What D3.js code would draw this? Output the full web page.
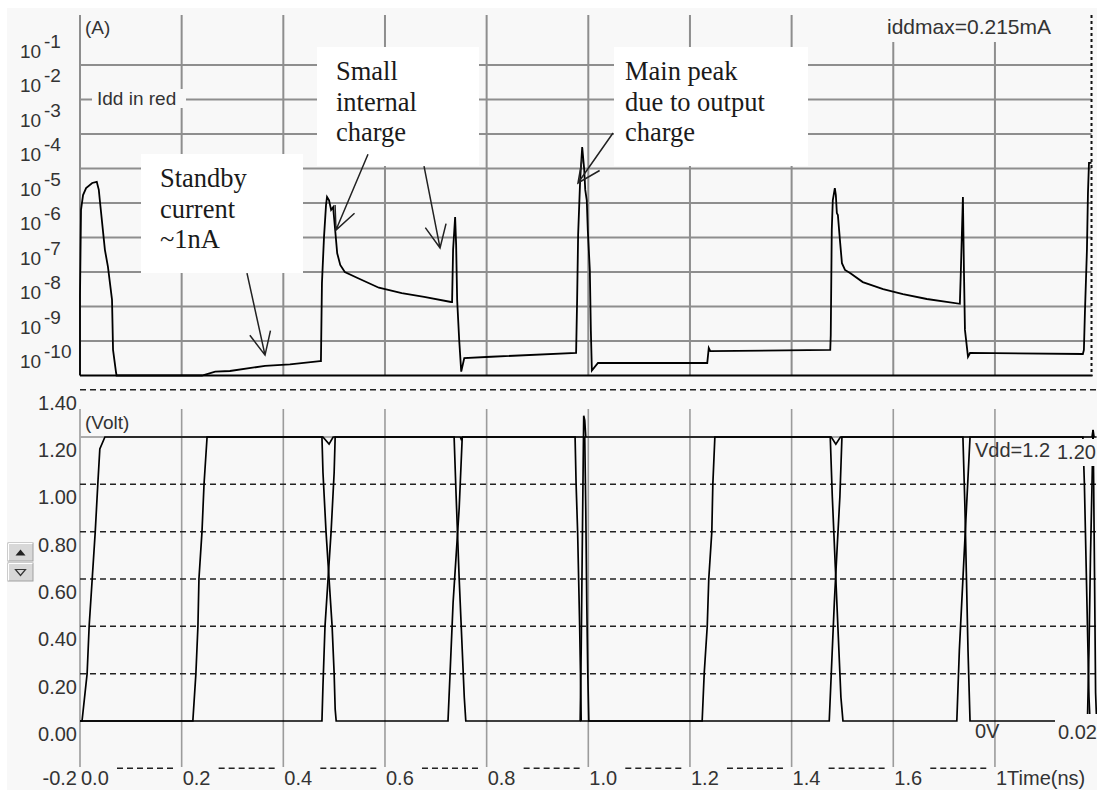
<!DOCTYPE html>
<html lang="en">
<head>
<meta charset="UTF-8">
<title>Idd and node voltages</title>
<script src="https://d3js.org/d3.v7.min.js"></script>
<style>
  body { margin: 0; background: #fff; }
  text { font-family: "Liberation Sans", Arial, sans-serif; fill: #333; }
  .note { font-family: "Liberation Serif", "Times New Roman", serif; fill: #1a1a1a; font-size: 26.5px; }
</style>
</head>
<body>
<script>
// ---- data ----
var timeTicks = [0, 0.2, 0.4, 0.6, 0.8, 1.0, 1.2, 1.4, 1.6, 1.8];
var timeLabels = ["0.0", "0.2", "0.4", "0.6", "0.8", "1.0", "1.2", "1.4", "1.6", "1Time(ns)"];

var iddExponents = [-1, -2, -3, -4, -5, -6, -7, -8, -9, -10];

var voltTicks = [1.4, 1.2, 1.0, 0.8, 0.6, 0.4, 0.2, 0.0, -0.2];
var voltLabels = ["1.40", "1.20", "1.00", "0.80", "0.60", "0.40", "0.20", "0.00", "-0.2"];

var cursorTime = 1.99;

// supply current, [time ns, current A]
var idd = [
  [0, 1e-11], [0, 2.1e-9], [0.002, 6.3e-7], [0.006, 1.7e-6], [0.012, 2.7e-6], [0.024, 3.8e-6],
  [0.033, 4.1e-6], [0.037, 2.4e-6], [0.039, 1.2e-6], [0.049, 4.4e-8], [0.055, 1.4e-8],
  [0.063, 1.55e-9], [0.065, 5.5e-11], [0.071, 1.2e-11], [0.072, 1e-11], [0.24, 1e-11],
  [0.266, 1.3e-11], [0.295, 1.35e-11], [0.364, 1.9e-11], [0.413, 2.1e-11], [0.472, 2.6e-11],
  [0.474, 2.6e-11], [0.476, 4.8e-9], [0.480, 1.0e-7], [0.484, 8.7e-7], [0.486, 1.5e-6],
  [0.490, 1.2e-6], [0.494, 6.3e-7], [0.498, 7.6e-7], [0.502, 1.65e-7], [0.506, 3.5e-8],
  [0.512, 1.6e-8], [0.521, 1.0e-8], [0.545, 6.8e-9], [0.588, 3.5e-9], [0.633, 2.45e-9],
  [0.677, 1.9e-9], [0.730, 1.35e-9], [0.732, 1.35e-9], [0.734, 4.4e-8], [0.738, 3.9e-7],
  [0.740, 6.0e-8], [0.742, 1.55e-9], [0.746, 1.07e-10], [0.750, 1.3e-11], [0.756, 3.2e-11],
  [0.809, 3.5e-11], [0.976, 4.5e-11], [0.978, 1.55e-9], [0.980, 1.2e-7], [0.984, 4.7e-6],
  [0.988, 4.2e-5], [0.992, 9.1e-6], [0.994, 2.4e-6], [0.997, 1.2e-6], [0.999, 1.65e-7],
  [1.003, 1.15e-8], [1.005, 2.1e-10], [1.007, 1.4e-11], [1.019, 2.3e-11], [1.234, 2.3e-11],
  [1.237, 6.3e-11], [1.240, 5.1e-11], [1.476, 5.5e-11], [1.477, 1.5e-10], [1.479, 1.65e-7],
  [1.481, 1.2e-6], [1.485, 2.7e-6], [1.487, 1.7e-6], [1.489, 5.1e-7], [1.491, 4.5e-7],
  [1.495, 8.5e-8], [1.499, 1.8e-8], [1.505, 1.15e-8], [1.515, 9.3e-9], [1.540, 5.1e-9],
  [1.580, 3.2e-9], [1.619, 2.3e-9], [1.666, 1.65e-9], [1.731, 1.2e-9], [1.733, 1.15e-8],
  [1.737, 1.5e-6], [1.739, 1.15e-8], [1.741, 2.1e-10], [1.747, 3.5e-11], [1.751, 4.5e-11],
  [1.973, 4.2e-11], [1.975, 5.5e-11], [1.977, 6.5e-10], [1.981, 4.4e-8], [1.983, 1.95e-6],
  [1.985, 1.45e-5], [1.990, 1.45e-5]
];

// node voltages, [time ns, volt]
var node1 = [
  [0, 0], [0.004, 0], [0.014, 0.2], [0.018, 0.4], [0.024, 0.6], [0.030, 0.8], [0.035, 1.0],
  [0.039, 1.15], [0.049, 1.2], [0.476, 1.2], [0.478, 1.05], [0.484, 0.8], [0.490, 0.6],
  [0.496, 0.4], [0.500, 0.2], [0.502, 0.05], [0.504, 0], [0.724, 0], [0.728, 0.2],
  [0.734, 0.5], [0.740, 0.7], [0.746, 0.9], [0.752, 1.2], [0.993, 1.2], [0.995, 0.9],
  [0.997, 0.5], [0.999, 0.2], [1.001, 0], [1.474, 0], [1.478, 0.2], [1.484, 0.5],
  [1.490, 0.75], [1.495, 0.95], [1.499, 1.2], [1.737, 1.2], [1.741, 0.9], [1.744, 0.6],
  [1.747, 0.3], [1.751, 0], [1.982, 0], [1.985, 0.3], [1.988, 0.7], [1.991, 1.0],
  [1.993, 1.23], [1.995, 1.2], [2.0, 1.2]
];
var node2 = [
  [0, 0], [0.222, 0], [0.228, 0.2], [0.232, 0.4], [0.234, 0.6], [0.240, 0.8], [0.244, 1.0],
  [0.250, 1.2], [0.478, 1.2], [0.490, 1.17], [0.498, 1.2], [0.748, 1.2], [0.750, 1.19],
  [0.752, 1.2], [0.974, 1.2], [0.976, 1.0], [0.979, 0.8], [0.981, 0.6], [0.983, 0.4],
  [0.985, 0.15], [0.986, 0], [1.224, 0], [1.228, 0.2], [1.234, 0.4], [1.237, 0.6],
  [1.243, 0.8], [1.245, 1.0], [1.249, 1.2], [1.478, 1.2], [1.487, 1.17], [1.496, 1.2],
  [1.973, 1.2], [1.976, 1.0], [1.979, 0.7], [1.982, 0.4], [1.985, 0.1], [1.987, 0], [2.0, 0]
];
var node3 = [
  [0, 0], [0.476, 0], [0.478, 0.15], [0.482, 0.4], [0.488, 0.6], [0.494, 0.8], [0.500, 1.05],
  [0.502, 1.2], [0.736, 1.2], [0.740, 0.95], [0.746, 0.6], [0.752, 0.3], [0.756, 0.1],
  [0.759, 0], [0.984, 0], [0.986, 0.3], [0.988, 0.7], [0.990, 1.1], [0.991, 1.29],
  [0.993, 1.27], [0.995, 1.2], [1.476, 1.2], [1.480, 0.95], [1.486, 0.65], [1.492, 0.35],
  [1.497, 0.1], [1.501, 0], [1.725, 0], [1.730, 0.3], [1.737, 0.6], [1.744, 0.9],
  [1.751, 1.2], [1.991, 1.2], [1.993, 1.23], [1.994, 1.05], [1.996, 0.6], [1.998, 0.12],
  [2.0, 0]
];

// callouts: text lines, arrows as [tail, tip] in [time, current]
var notes = [
  { lines: ["Standby", "current", "~1nA"], box: [141, 154, 162, 119] },
  { lines: ["Small", "internal", "charge"], box: [317, 47, 162, 119] },
  { lines: ["Main peak", "due to output", "charge"], box: [614, 47, 194, 119] }
];
var arrows = [
  [[0.3285, 9.3e-9], [0.364, 3.9e-11]],
  [[0.5666, 2.6e-5], [0.5036, 1.65e-7]],
  [[0.6768, 1.17e-5], [0.7083, 5.0e-8]],
  [[1.0486, 1.07e-4], [0.9797, 3.8e-6]]
];

// ---- layout ----
var width = 1097, height = 790;
var x = d3.scaleLinear().domain([0, 2]).range([80, 80 + 2 * 508.3]);
var yI = d3.scaleLog().domain([1e-11, 1e-2]).range([375.5, 65]);
var yV = d3.scaleLinear().domain([0, 1.2]).range([721, 437]);

var svg = d3.select("body").append("svg")
    .attr("width", width)
    .attr("height", height);

svg.append("rect").attr("x", 7).attr("y", 8)
    .attr("width", width - 7).attr("height", height - 8)
    .attr("fill", "#f8f8f8");

// ---- top panel: current ----
var topG = svg.append("g");
var gridColor = "#8e8e8e";

topG.selectAll(".hgrid").data(iddExponents.slice(1)).enter().append("line")
    .attr("x1", x(0)).attr("x2", x(cursorTime))
    .attr("y1", function(d) { return yI(Math.pow(10, d)); })
    .attr("y2", function(d) { return yI(Math.pow(10, d)); })
    .attr("stroke", gridColor).attr("stroke-width", 2);

topG.selectAll(".vgrid").data(timeTicks).enter().append("line")
    .attr("x1", function(d) { return x(d); })
    .attr("x2", function(d) { return x(d); })
    .attr("y1", function(d) { return d >= 1.6 ? 42 : 15; })
    .attr("y2", 375)
    .attr("stroke", gridColor).attr("stroke-width", 2);

// decade labels sit just under their grid line
var lab = topG.selectAll(".ilab").data(iddExponents).enter().append("g");
lab.append("text")
    .attr("x", 20).attr("y", function(d) { return yI(Math.pow(10, d)) + 27; })
    .style("font-size", "19px").text("10");
lab.append("text")
    .attr("x", 44).attr("y", function(d) { return yI(Math.pow(10, d)) + 17; })
    .style("font-size", "19px").text(function(d) { return "-" + (-d); });

topG.append("text").attr("x", 85).attr("y", 34).style("font-size", "19px").text("(A)");
topG.append("text").attr("x", 887).attr("y", 34).style("font-size", "21px").text("iddmax=0.215mA");

topG.append("rect").attr("x", 92).attr("y", 89).attr("width", 94).attr("height", 19)
    .attr("fill", "#f8f8f8");
topG.append("text").attr("x", 97).attr("y", 105).style("font-size", "19px").text("Idd in red");

// axis base and cursor
topG.append("line")
    .attr("x1", x(0)).attr("x2", x(cursorTime) + 1)
    .attr("y1", 375.5).attr("y2", 375.5)
    .attr("stroke", "#000").attr("stroke-width", 2.2);
topG.append("line")
    .attr("x1", x(cursorTime)).attr("x2", x(cursorTime))
    .attr("y1", 15).attr("y2", 376)
    .attr("stroke", "#111").attr("stroke-width", 2)
    .attr("stroke-dasharray", "3,3");

var iddLine = d3.line()
    .x(function(d) { return x(d[0]); })
    .y(function(d) { return yI(d[1]); });

topG.append("path")
    .datum(idd)
    .attr("d", iddLine)
    .attr("fill", "none")
    .attr("stroke", "#000")
    .attr("stroke-width", 1.8);

// ---- bottom panel: voltages ----
var botG = svg.append("g");

botG.selectAll(".vg").data(timeTicks).enter().append("line")
    .attr("x1", function(d) { return x(d); })
    .attr("x2", function(d) { return x(d); })
    .attr("y1", 409).attr("y2", 767)
    .attr("stroke", "#9c9c9c").attr("stroke-width", 1.6);

// dashed grid, except 1.2 and 0 which are plain reference lines
botG.selectAll(".hd").data(voltTicks.filter(function(v) { return v > 0.1 && v !== 1.2; }))
    .enter().append("line")
    .attr("x1", x(0)).attr("x2", width)
    .attr("y1", function(d) { return yV(d); })
    .attr("y2", function(d) { return yV(d); })
    .attr("stroke", "#222").attr("stroke-width", 1.5)
    .attr("stroke-dasharray", "6,4");

botG.append("line")
    .attr("x1", x(0)).attr("x2", 1093)
    .attr("y1", yV(1.2)).attr("y2", yV(1.2))
    .attr("stroke", "#aaa").attr("stroke-width", 2);

// -0.2 line broken by the time labels
botG.selectAll(".hm").data(timeTicks.slice(0, -1)).enter().append("line")
    .attr("x1", function(d) { return x(d) + 37; })
    .attr("x2", function(d) { return x(d + 0.2) - 8; })
    .attr("y1", yV(-0.2)).attr("y2", yV(-0.2))
    .attr("stroke", "#222").attr("stroke-width", 1.5)
    .attr("stroke-dasharray", "6,4");

var vLine = d3.line()
    .x(function(d) { return x(d[0]); })
    .y(function(d) { return yV(d[1]); });

botG.selectAll(".node").data([node1, node2, node3]).enter().append("path")
    .attr("d", vLine)
    .attr("fill", "none")
    .attr("stroke", "#000")
    .attr("stroke-width", 1.7);

botG.selectAll(".vlab").data(voltTicks).enter().append("text")
    .attr("x", 77).attr("y", function(d) { return Math.min(yV(d) + 20, 785); })
    .attr("text-anchor", "end")
    .style("font-size", "20px")
    .text(function(d, i) { return voltLabels[i]; });

botG.selectAll(".tlab").data(timeTicks).enter().append("text")
    .attr("x", function(d) { return x(d) + 1; }).attr("y", 785)
    .style("font-size", "20px")
    .text(function(d, i) { return timeLabels[i]; });

botG.append("text").attr("x", 85).attr("y", 429).style("font-size", "19px").text("(Volt)");
botG.append("text").attr("x", 975).attr("y", 457).style("font-size", "20px").text("Vdd=1.2");
botG.append("text").attr("x", 975).attr("y", 738).style("font-size", "20px").text("0V");

botG.append("rect").attr("x", 1055).attr("y", 439).attr("width", 42).attr("height", 27).attr("fill", "#f8f8f8");
botG.append("text").attr("x", 1057).attr("y", 459).style("font-size", "20px").text("1.20");
botG.append("rect").attr("x", 1055).attr("y", 714).attr("width", 42).attr("height", 30).attr("fill", "#f8f8f8");
botG.append("text").attr("x", 1058).attr("y", 739).style("font-size", "20px").text("0.02");

// scroll buttons
function button(y0, up) {
    var b = svg.append("g");
    b.append("rect").attr("x", 8).attr("y", y0).attr("width", 25).attr("height", 18)
        .attr("fill", "#d8d8d8").attr("stroke", "#a0a0a0").attr("stroke-width", 1);
    b.append("path").attr("d", "M8.5," + (y0 + 17.5) + "V" + (y0 + 0.5) + "H32.5")
        .attr("fill", "none").attr("stroke", "#fff");
    var cx = 20.5, cy = y0 + 9.5;
    if (up) {
        b.append("path").attr("d", "M" + (cx - 5) + "," + (cy + 3) + "L" + cx + "," + (cy - 3) + "L" + (cx + 5) + "," + (cy + 3) + "Z")
            .attr("fill", "#222");
    } else {
        b.append("path").attr("d", "M" + (cx - 5) + "," + (cy - 3) + "L" + cx + "," + (cy + 3) + "L" + (cx + 5) + "," + (cy - 3) + "Z")
            .attr("fill", "none").attr("stroke", "#333").attr("stroke-width", 1.2);
    }
}
button(543, true);
button(563, false);

// ---- callouts ----
var ng = svg.append("g");
notes.forEach(function(n) {
    ng.append("rect")
        .attr("x", n.box[0]).attr("y", n.box[1])
        .attr("width", n.box[2]).attr("height", n.box[3])
        .attr("fill", "#fff");
    n.lines.forEach(function(s, i) {
        ng.append("text").attr("class", "note")
            .attr("x", n.box[0] + (n.box[2] > 170 ? 11 : 19))
            .attr("y", n.box[1] + 33 + i * 30.7)
            .text(s);
    });
});

arrows.forEach(function(a) {
    var x0 = x(a[0][0]), y0 = yI(a[0][1]);
    var x1 = x(a[1][0]), y1 = yI(a[1][1]);
    var ang = Math.atan2(y0 - y1, x0 - x1);
    var len = 25, spread = 25 * Math.PI / 180;
    var p = d3.path();
    p.moveTo(x0, y0); p.lineTo(x1, y1);
    p.moveTo(x1 + len * Math.cos(ang - spread), y1 + len * Math.sin(ang - spread));
    p.lineTo(x1, y1);
    p.lineTo(x1 + len * Math.cos(ang + spread), y1 + len * Math.sin(ang + spread));
    ng.append("path").attr("d", p.toString())
        .attr("fill", "none").attr("stroke", "#222").attr("stroke-width", 1.5);
});
</script>
</body>
</html>
